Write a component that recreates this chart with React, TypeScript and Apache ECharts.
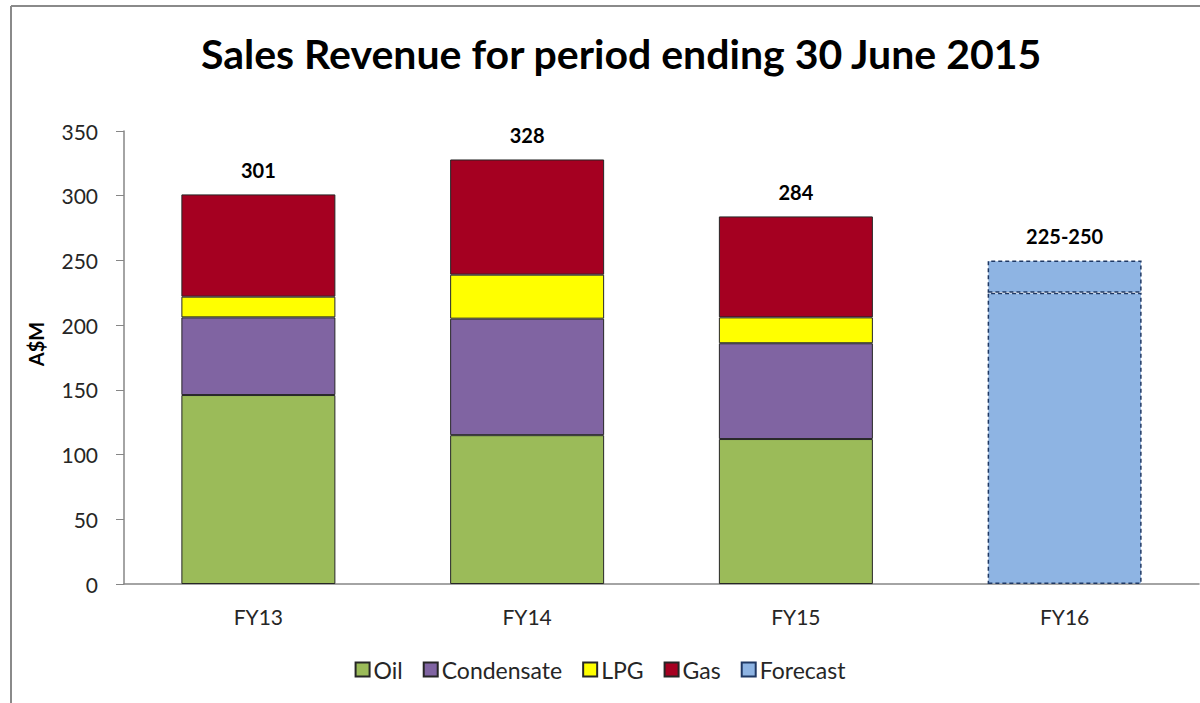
import React, { useEffect, useRef } from "react";
import * as echarts from "echarts";

const categories = ["FY13", "FY14", "FY15", "FY16"];
const oil = [146, 115, 112, null];
const condensate = [60, 90, 74, null];
const lpg = [16, 34, 20, null];
const gas = [79, 89, 78, null];
const forecastLow = [null, null, null, 225];
const forecastHigh = [null, null, null, 25];
const totalLabels = ["301", "328", "284", "225-250"];
const yTicks = { min: 0, max: 350, interval: 50 };

const FONT = "Lato, 'Open Sans', sans-serif";
const BORDER = "#262626";

export default function App() {
  const ref = useRef<HTMLDivElement>(null);
  useEffect(() => {
    if (!ref.current) return;
    const chart = echarts.init(ref.current, undefined, { renderer: "svg" });
    const seg = (name: string, data: any[], color: string, extra: any = {}) => ({
      name,
      type: "bar",
      stack: "total",
      data,
      barWidth: 154,
      itemStyle: { color, borderColor: BORDER, borderWidth: 1 },
      ...extra,
    });
    const topLabel = {
      show: true,
      position: "top",
      distance: 14,
      fontFamily: FONT,
      fontSize: 20,
      fontWeight: "bold",
      color: "#000",
      formatter: (p: any) => totalLabels[p.dataIndex],
    };
    const fcStyle = {
      color: "#8EB4E3",
      borderColor: "#1F3864",
      borderWidth: 1.5,
      borderType: [4, 3],
    };
    const frame = { stroke: "#8a8a8a", lineWidth: 2 };
    chart.setOption({
      animation: false,
      backgroundColor: "#fff",
      textStyle: { fontFamily: FONT },
      title: {
        text: "Sales Revenue for period ending 30 June 2015",
        left: 196,
        top: 28,
        textStyle: { fontFamily: FONT, fontSize: 41, fontWeight: "bold", color: "#000" },
      },
      graphic: [
        {
          type: "line",
          shape: { x1: 11, y1: 6, x2: 1300, y2: 6 },
          style: frame,
          silent: true,
          z: -10,
        },
        {
          type: "line",
          shape: { x1: 11, y1: 6, x2: 11, y2: 800 },
          style: frame,
          silent: true,
          z: -10,
        },
        {
          type: "text",
          x: 36,
          y: 344,
          rotation: Math.PI / 2,
          style: {
            text: "A$M",
            fontFamily: FONT,
            fontSize: 20,
            fontWeight: "bold",
            fill: "#000",
            align: "center",
            verticalAlign: "middle",
          },
        },
      ],
      legend: {
        data: ["Oil", "Condensate", "LPG", "Gas", "Forecast"],
        left: "center",
        top: 653,
        icon: "rect",
        itemWidth: 14,
        itemHeight: 14,
        itemGap: 20,
        textStyle: { fontFamily: FONT, fontSize: 23, color: "#262626", padding: [0, 0, 0, -1] },
      },
      grid: { left: 124, right: 1, top: 131, bottom: 119 },
      xAxis: {
        type: "category",
        data: categories,
        axisLine: { lineStyle: { color: "#868686", width: 1.5 } },
        axisTick: { show: false },
        axisLabel: { fontFamily: FONT, fontSize: 21, color: "#262626", margin: 22 },
      },
      yAxis: {
        type: "value",
        min: yTicks.min,
        max: yTicks.max,
        interval: yTicks.interval,
        axisLine: { show: true, lineStyle: { color: "#868686", width: 1.5 } },
        axisTick: { show: true, length: 8, lineStyle: { color: "#868686" } },
        splitLine: { show: false },
        axisLabel: { fontFamily: FONT, fontSize: 21, color: "#262626", margin: 26 },
      },
      series: [
        seg("Oil", oil, "#9BBB59"),
        seg("Condensate", condensate, "#8064A2"),
        seg("LPG", lpg, "#FFFF00"),
        seg("Gas", gas, "#A50021", { label: topLabel }),
        { ...seg("Forecast", forecastLow, "#8EB4E3"), itemStyle: fcStyle },
        { ...seg("Forecast", forecastHigh, "#8EB4E3"), itemStyle: fcStyle, label: topLabel },
      ],
    });
    return () => chart.dispose();
  }, []);
  return (
    <div
      ref={ref}
      style={{ position: "absolute", left: 0, top: 0, width: 1200, height: 703 }}
    />
  );
}
